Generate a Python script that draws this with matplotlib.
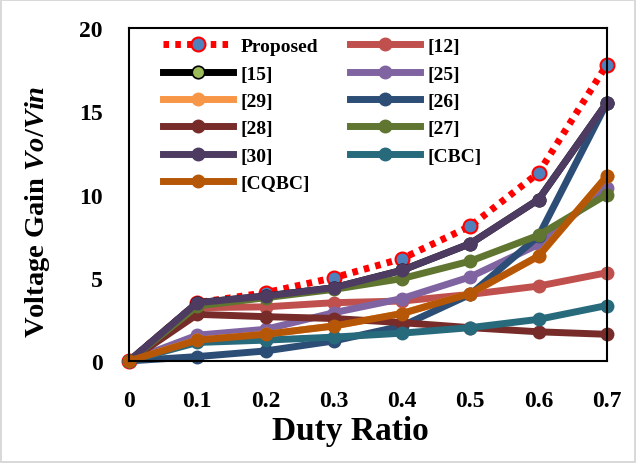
import matplotlib
matplotlib.use("Agg")
import matplotlib.pyplot as plt

plt.rcParams['font.family'] = ['Liberation Serif', 'DejaVu Serif']
plt.rcParams['font.weight'] = 'bold'
plt.rcParams['mathtext.fontset'] = 'custom'
plt.rcParams['mathtext.it'] = 'Liberation Serif:italic:bold'
plt.rcParams['mathtext.rm'] = 'Liberation Serif:bold'

duty = [0, 0.1, 0.2, 0.3, 0.4, 0.5, 0.6, 0.7]

proposed = [0, 3.5, 4.1, 5.0, 6.15, 8.1, 11.3, 17.8]
ref12 = [0, 3.2, 3.25, 3.5, 3.6, 4.0, 4.5, 5.3]
ref15 = [0, 3.5, 3.9, 4.4, 5.45, 7.05, 9.7, 15.5]
ref25 = [0, 1.55, 1.9, 2.9, 3.75, 5.05, 7.0, 10.4]
ref29 = [0, 1.25, 1.6, 2.1, 2.85, 4.05, 6.3, 11.1]
ref26 = [0, 0.26, 0.6, 1.2, 2.1, 4.0, 7.5, 15.5]
ref28 = [0, 2.8, 2.66, 2.55, 2.3, 2.0, 1.75, 1.6]
ref27 = [0, 3.3, 3.8, 4.3, 4.95, 6.0, 7.55, 10.0]
ref30 = [0, 3.5, 3.9, 4.4, 5.45, 7.05, 9.7, 15.5]
cbc = [0, 1.11, 1.25, 1.43, 1.67, 2.0, 2.5, 3.33]
cqbc = [0, 1.25, 1.6, 2.1, 2.85, 4.05, 6.3, 11.1]

fig = plt.figure(figsize=(6.36, 4.64), dpi=100)
fig.patch.set_edgecolor('#d9d9d9')
fig.patch.set_linewidth(1.5)
ax = fig.add_axes([0.203, 0.22, 0.751, 0.717])

lw = 5
ms = 9

h = {}
h['Proposed'], = ax.plot(duty, proposed, color='red', lw=lw, ls=(0, (0.8, 0.9)),
                         marker='o', ms=10, mfc='#4F81BD', mec='red', mew=1.5)
h['[12]'], = ax.plot(duty, ref12, color='#C0504D', lw=lw, marker='o', ms=ms)
h['[15]'], = ax.plot(duty, ref15, color='black', lw=lw, marker='o', ms=ms,
                     mfc='#9BBB59', mec='black', mew=1.2)
h['[25]'], = ax.plot(duty, ref25, color='#8064A2', lw=lw, marker='o', ms=ms)
h['[29]'], = ax.plot(duty, ref29, color='#F79646', lw=lw, marker='o', ms=ms)
h['[26]'], = ax.plot(duty, ref26, color='#2C4D75', lw=lw, marker='o', ms=ms)
h['[28]'], = ax.plot(duty, ref28, color='#772C2A', lw=lw, marker='o', ms=ms)
h['[27]'], = ax.plot(duty, ref27, color='#5F7530', lw=lw, marker='o', ms=ms)
h['[30]'], = ax.plot(duty, ref30, color='#4D3B62', lw=lw, marker='o', ms=ms)
h['[CBC]'], = ax.plot(duty, cbc, color='#276A7C', lw=lw, marker='o', ms=ms)
h['[CQBC]'], = ax.plot(duty, cqbc, color='#B65708', lw=lw, marker='o', ms=ms)

for line in h.values():
    line.set_clip_on(False)

ax.set_xlim(0, 0.7)
ax.set_ylim(0, 20)
ax.set_xticks(duty)
ax.set_xticklabels(['0', '0.1', '0.2', '0.3', '0.4', '0.5', '0.6', '0.7'])
ax.set_yticks([0, 5, 10, 15, 20])
ax.tick_params(axis='both', length=0, labelsize=17)
ax.tick_params(axis='x', pad=21)
ax.tick_params(axis='y', pad=19)
for s in ax.spines.values():
    s.set_linewidth(1.5)
    s.set_color('black')

ax.set_xlabel('Duty Ratio', fontsize=24, fontweight='bold')
ax.xaxis.set_label_coords(0.464, -0.163)
ax.set_ylabel('Voltage Gain $Vo/Vin$', fontsize=20.5, fontweight='bold')
ax.yaxis.set_label_coords(-0.161, 0.45)

order = ['Proposed', '[15]', '[29]', '[28]', '[30]', '[CQBC]',
         '[12]', '[25]', '[26]', '[27]', '[CBC]']
leg = ax.legend([h[k] for k in order], order, ncol=2, loc='upper left',
                bbox_to_anchor=(0.055, 0.995), borderaxespad=0, frameon=False,
                fontsize=14, handlelength=3.6, handletextpad=0.4,
                labelspacing=0.5, columnspacing=1.6)

fig.savefig('out.png', dpi=100)
